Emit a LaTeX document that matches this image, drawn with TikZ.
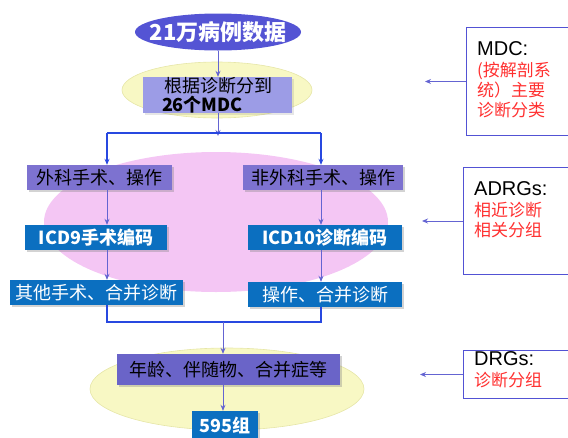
\documentclass[tikz,border=0pt]{standalone}
\usepackage{fontspec}
\setmainfont{Noto Sans CJK SC}
\newfontfamily\latinf{Liberation Sans}
\usetikzlibrary{shapes.geometric,shadows,arrows.meta}
\definecolor{topc}{HTML}{5454D4}
\definecolor{lightp}{HTML}{9C9CE6}
\definecolor{yellowc}{HTML}{F8F8C4}
\definecolor{yellowb}{HTML}{E6E6A8}
\definecolor{pinkc}{HTML}{F4C6F4}
\definecolor{midp}{HTML}{7D72D0}
\definecolor{agep}{HTML}{6A64C8}
\definecolor{bluec}{HTML}{0B6FC0}
\definecolor{arrowc}{HTML}{6464D2}
\definecolor{splitc}{HTML}{2848E0}
\definecolor{notec}{HTML}{5252D4}
\definecolor{redc}{HTML}{FF3030}
\tikzset{
  box/.style={rectangle, inner sep=1pt, minimum height=25pt, font=\fontsize{18}{20}\selectfont,
    drop shadow={opacity=0.35, shadow xshift=2pt, shadow yshift=-2pt}},
  pbox/.style={box, fill=midp, text=black},
  bbox/.style={box, fill=bluec, text=white},
  arr/.style={draw=arrowc, line width=0.9pt, -{Stealth[length=6pt,width=5pt]}},
  splitline/.style={draw=splitc, line width=1.6pt},
  splitarr/.style={draw=splitc, line width=1.6pt, -{Stealth[length=6pt,width=5pt]}},
  note/.style={draw=notec, line width=1pt, rectangle, inner sep=0pt},
  notetext/.style={anchor=north west, align=left, inner sep=0pt, font=\fontsize{17}{20}\selectfont},
}
\begin{document}
\begin{tikzpicture}[x=1pt,y=-1pt]
\useasboundingbox (0,0) rectangle (568,437);
% background ellipses
\fill[yellowc, draw=yellowb, line width=0.6pt] (217,90) ellipse [x radius=95pt, y radius=28pt];
\fill[pinkc] (216,222) ellipse [x radius=172pt, y radius=70pt];
\fill[yellowc, draw=yellowb, line width=0.6pt] (227,389) ellipse [x radius=137pt, y radius=41pt];

% top
\node[ellipse, fill=topc, minimum width=166pt, minimum height=37pt, inner sep=0pt] (top) at (218,32) {};
\node[text=white, font=\bfseries\fontsize{22}{24}\selectfont] at (top) {21万病例数据};

% MDC box
\node[rectangle, fill=lightp, minimum width=149pt, minimum height=36pt, text width=135pt, align=left,
  inner sep=0pt, font=\fontsize{18}{19}\selectfont, drop shadow={opacity=0.2, shadow xshift=2pt, shadow yshift=-2pt}]
  (mdc) at (217.5,95) {\hspace*{14pt}根据诊断分到\\\hspace*{12pt}\textbf{26个MDC}};

% second level
\node[pbox, minimum width=145pt] (l1) at (99.5,177.5) {外科手术、操作};
\node[pbox, minimum width=160pt] (r1) at (323,177.5) {非外科手术、操作};
\node[bbox, minimum width=142pt, font=\bfseries\fontsize{18}{20}\selectfont] (l2) at (96,237.5) {ICD9手术编码};
\node[bbox, minimum width=154pt, font=\bfseries\fontsize{18}{20}\selectfont] (r2) at (325,237.5) {ICD10诊断编码};
\node[bbox, minimum width=173pt] (l3) at (96.5,292.5) {其他手术、合并诊断};
\node[bbox, minimum width=154pt] (r3) at (325,294.5) {操作、合并诊断};

\node[box, fill=agep, minimum width=223pt, minimum height=31pt] (age) at (228.5,369.5) {年龄、伴随物、合并症等};
\node[bbox, minimum width=66pt, minimum height=28pt, font=\bfseries\fontsize{18}{20}\selectfont] (g595) at (225,425) {595组};

% coordinates
\coordinate (lx) at (107,0);
\coordinate (rx) at (321,0);
\coordinate (split) at (218,133);
\coordinate (merge) at (223,322);

% connectors
\draw[arr] (top.south) -- (top.south |- mdc.north);
\draw[arr] (top.south |- mdc.south) -- ([yshift=-3pt]split);
\draw[splitline] (split -| lx) -- (split -| rx);
\draw[splitarr] (split -| lx) -- (l1.north -| lx);
\draw[splitarr] (split -| rx) -- (r1.north -| rx);
\draw[arr] (l1.south -| lx) -- (l2.north -| lx);
\draw[arr] (r1.south -| rx) -- (r2.north -| rx);
\draw[arr] (l2.south -| lx) -- (l3.north -| lx);
\draw[arr] (r2.south -| rx) -- (r3.north -| rx);
\draw[splitline] (l3.south -| lx) |- (merge) -| (r3.south -| rx);
\draw[arr] (merge) -- (merge |- age.north);
\draw[arr] (merge |- age.south) -- (merge |- g595.north);

% notes
\node[note, minimum width=106pt, minimum height=108pt, anchor=north west] (n1) at (466,27) {};
\node[notetext] at (477,41) {{\latinf\fontsize{20}{22}\selectfont MDC:}\\[1pt]\textcolor{redc}{(按解剖系}\\\textcolor{redc}{统）主要}\\\textcolor{redc}{诊断分类}};
\node[note, minimum width=109pt, minimum height=107pt, anchor=north west] (n2) at (463,167) {};
\node[notetext] at (474,181) {{\latinf\fontsize{20}{22}\selectfont ADRGs:}\\[1pt]\textcolor{redc}{相近诊断}\\\textcolor{redc}{相关分组}};
\node[note, minimum width=109pt, minimum height=48pt, anchor=north west] (n3) at (463,350) {};
\node[notetext] at (474,351) {{\latinf\fontsize{20}{22}\selectfont DRGs:}\\[1pt]\textcolor{redc}{诊断分组}};

\coordinate (e1) at (425,0);
\coordinate (e2) at (422,0);
\coordinate (e3) at (420,0);
\draw[arr] (n1.west) -- (n1.west -| e1);
\draw[arr] (n2.west) -- (n2.west -| e2);
\draw[arr] (n3.west) -- (n3.west -| e3);
\end{tikzpicture}
\end{document}
